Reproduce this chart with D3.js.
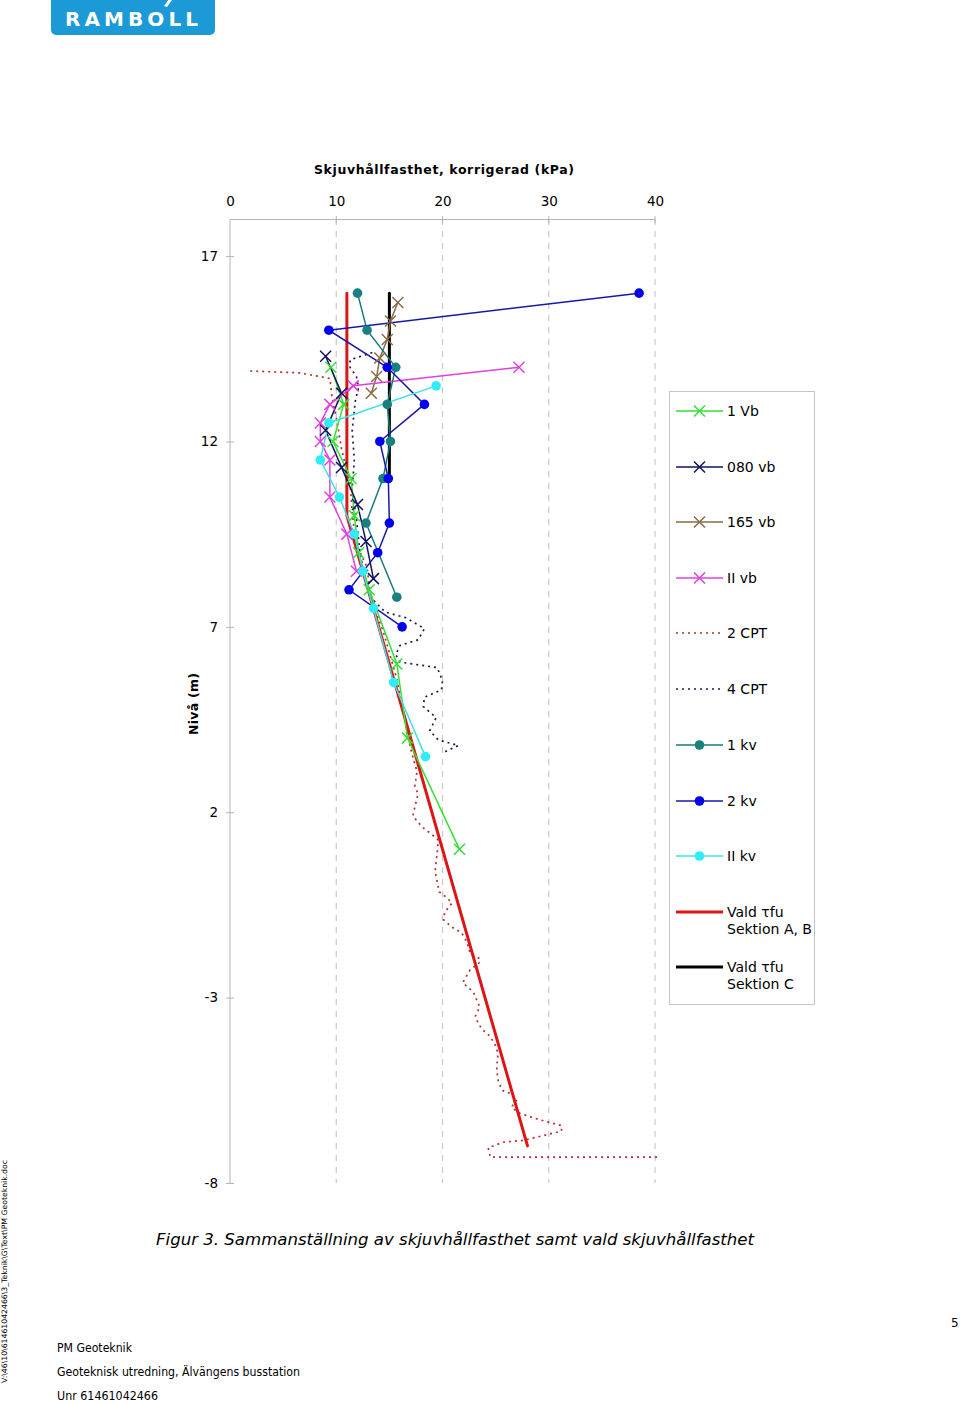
<!DOCTYPE html>
<html><head><meta charset="utf-8">
<script src="https://cdn.jsdelivr.net/npm/d3@7"></script>
<style>body{margin:0;background:#fff}svg{display:block}</style>
</head><body>
<svg id="c" width="960" height="1404"></svg>
<script>
// ---- data ----
const xTicks = [0, 10, 20, 30, 40];
const yTicks = [17, 12, 7, 2, -3, -8];
const legendLabels = ["1 Vb", "080 vb", "165 vb", "II vb", "2 CPT", "4 CPT", "1 kv", "2 kv", "II kv", "Vald τfu|Sektion A, B", "Vald τfu|Sektion C"];

const vb1 = [[9.5,14.0],[10.7,13.0],[9.7,12.0],[11.4,11.0],[11.7,10.0],[12.1,9.0],[13.1,8.0],[15.7,6.0],[16.7,4.0],[21.6,1.0]];
const vb080 = [[9.0,14.3],[10.5,13.3],[9.0,12.3],[10.5,11.3],[12.0,10.3],[12.8,9.3],[13.5,8.3]];
const vb165 = [[15.8,15.75],[15.1,15.25],[14.8,14.75],[14.1,14.25],[13.8,13.75],[13.3,13.3]];
const vbII = [[27.2,14.0],[11.6,13.5],[9.4,13.0],[8.5,12.5],[8.5,12.0],[9.4,11.5],[9.4,10.5],[11.0,9.5],[11.9,8.5]];
const cpt2 = [[1.9,13.9],[6.6,13.85],[9.4,13.7],[9.6,13.2],[10.1,12.5],[10.5,11.8],[11.0,11.2],[11.3,10.9],[11.5,10.1],[11.8,9.3],[12.9,8.6],[13.2,7.9],[13.6,7.5],[14.4,6.9],[15.7,5.6],[16.3,4.7],[17.1,3.6],[17.6,3.1],[17.4,2.7],[17.7,2.5],[17.2,1.9],[18.1,1.6],[19.0,1.4],[19.6,1.25],[19.5,0.9],[19.3,0.4],[19.7,-0.15],[20.4,-0.3],[20.9,-0.45],[20.2,-0.7],[20.1,-0.9],[20.9,-1.1],[21.8,-1.25],[22.3,-1.5],[22.6,-1.8],[23.5,-1.95],[23.5,-2.05],[22.6,-2.25],[21.9,-2.6],[22.9,-2.85],[23.5,-3.25],[23.1,-3.5],[23.3,-3.65],[23.7,-3.85],[24.5,-4.05],[25.1,-4.35],[25.2,-4.6],[25.1,-4.85],[25.2,-5.2],[25.6,-5.5],[26.5,-5.6],[27.0,-5.75],[26.5,-5.95],[27.1,-6.1],[29.2,-6.3],[31.2,-6.45],[31.2,-6.6],[29.8,-6.7],[27.6,-6.85],[25.7,-6.9],[24.3,-7.05],[24.5,-7.3],[40.2,-7.3]];
const cpt4 = [[13.4,14.4],[11.3,14.2],[11.3,14.0],[11.9,13.75],[12.1,13.45],[11.8,13.1],[11.5,12.3],[11.7,11.5],[11.5,10.7],[11.9,9.9],[12.2,9.1],[12.7,8.25],[13.4,7.75],[14.6,7.4],[16.5,7.25],[18.3,6.95],[17.7,6.65],[16.0,6.5],[15.6,6.25],[16.0,6.05],[19.5,5.9],[20.0,5.55],[19.9,5.3],[18.3,5.1],[18.2,4.85],[19.4,4.55],[18.8,4.2],[19.6,3.95],[21.5,3.8],[20.0,3.6]];
const kv1 = [[12.0,16.0],[12.9,15.0],[15.6,14.0],[14.8,13.0],[15.1,12.0],[14.4,11.0],[12.8,9.8],[15.7,7.8]];
const kv2 = [[38.5,16.0],[9.3,15.0],[14.8,14.0],[18.3,13.0],[14.1,12.0],[14.9,11.0],[15.0,9.8],[13.9,9.0],[11.2,8.0],[16.2,7.0]];
const kvII = [[19.4,13.5],[9.3,12.5],[8.5,11.5],[10.3,10.5],[11.7,9.5],[12.5,8.5],[13.5,7.5],[15.4,5.5],[18.4,3.5]];
const valdAB = [[11,16],[11,10],[28,-7]];
const valdC = [[15,16],[15,11]];

// ---- styles ----
const series = [
  {data: vb1,   color: "#33e033", mcolor: "#33e033", marker: "x", dash: null, w: 1.5},
  {data: vb080, color: "#12125e", mcolor: "#12125e", marker: "x", dash: null, w: 1.5},
  {data: vb165, color: "#8a6a48", mcolor: "#8a6a48", marker: "x", dash: null, w: 1.5},
  {data: vbII,  color: "#e040e0", mcolor: "#e040e0", marker: "x", dash: null, w: 1.5},
  {data: cpt2,  color: "#b2302e", mcolor: null, marker: null, dash: "2,4", w: 1.7},
  {data: cpt4,  color: "#1c1c4e", mcolor: null, marker: null, dash: "2,4", w: 1.7},
  {data: kv1,   color: "#1a7a7a", mcolor: "#1a7f7f", marker: "o", dash: null, w: 1.5},
  {data: kv2,   color: "#1818a8", mcolor: "#0000ee", marker: "o", dash: null, w: 1.5},
  {data: kvII,  color: "#40e0e8", mcolor: "#30ecf4", marker: "o", dash: null, w: 1.5},
  {data: valdAB, color: "#dd1515", mcolor: null, marker: null, dash: null, w: 3},
  {data: valdC,  color: "#000000", mcolor: null, marker: null, dash: null, w: 3}
];

const svg = d3.select("#c");
const FONT = "DejaVu Sans, Verdana, sans-serif";

// logo
const logo = svg.append("g");
logo.append("rect").attr("x", 51).attr("y", -6).attr("width", 164).attr("height", 41).attr("rx", 5).attr("fill", "#1b9ad7");
logo.append("text").attr("x", 65).attr("y", 26).attr("font-family", FONT).attr("font-weight", "bold")
  .attr("font-size", 20).attr("fill", "#fff").attr("textLength", 133).attr("lengthAdjust", "spacing").text("RAMBOLL");
logo.append("path").attr("d", "M164,6 L169,-1 L172,0 L167,7 Z").attr("fill", "#fff");

// scales
const x = d3.scaleLinear().domain([0, 40]).range([230, 655]);
const y = d3.scaleLinear().domain([18, -8]).range([219, 1183]);

// title
svg.append("text").attr("x", 314).attr("y", 174).attr("font-family", FONT).attr("font-weight", "bold")
  .attr("font-size", 12.5).attr("fill", "#000").attr("textLength", 260).attr("lengthAdjust", "spacing")
  .text("Skjuvhållfasthet, korrigerad (kPa)");

// grid
svg.append("g").selectAll("line").data(xTicks.filter(d => d > 0)).join("line")
  .attr("x1", d => x(d)).attr("x2", d => x(d)).attr("y1", y(18)).attr("y2", y(-8))
  .attr("stroke", "#c8c8c8").attr("stroke-width", 1.2).attr("stroke-dasharray", "6,6");

const fmt = d => String(d);
// top axis
const xAxis = d3.axisTop(x).tickValues(xTicks).tickSize(0).tickPadding(13).tickFormat(fmt);
const gx = svg.append("g").attr("transform", `translate(0,${y(18)})`).call(xAxis);
gx.select(".domain").attr("stroke", "#b4b4b4");
gx.selectAll("text").attr("font-family", FONT).attr("font-size", 13.5).attr("fill", "#000");
svg.append("g").selectAll("line").data(xTicks.filter(d => d > 0)).join("line")
  .attr("x1", d => x(d)).attr("x2", d => x(d)).attr("y1", y(18) - 3).attr("y2", y(18) + 4).attr("stroke", "#b4b4b4");

// left axis
const yAxis = d3.axisLeft(y).tickValues(yTicks).tickSize(4).tickPadding(6).tickFormat(fmt);
const gy = svg.append("g").attr("transform", `translate(${x(0)},0)`).call(yAxis);
gy.select(".domain").attr("stroke", "#b4b4b4").attr("d", `M0,${y(18)}V${y(-8)}`);
gy.selectAll(".tick line").attr("stroke", "#b4b4b4").attr("x1", 4);
gy.selectAll("text").attr("font-family", FONT).attr("font-size", 13.5).attr("fill", "#000").attr("dx", -2);

// y label
svg.append("text").attr("transform", "translate(198,735) rotate(-90)").attr("font-family", FONT)
  .attr("font-weight", "bold").attr("font-size", 12.5).attr("textLength", 62).attr("lengthAdjust", "spacing").text("Nivå (m)");

// lines
const line = d3.line().x(d => x(d[0])).y(d => y(d[1]));
const order = [4, 5, 9, 10, 0, 1, 2, 3, 6, 7, 8];
const plot = svg.append("g");
function drawX(g, cx, cy, col, s) {
  g.append("path").attr("d", `M${cx - s},${cy - s}L${cx + s},${cy + s}M${cx - s},${cy + s}L${cx + s},${cy - s}`)
    .attr("stroke", col).attr("stroke-width", 1.5).attr("fill", "none");
}
order.forEach(i => {
  const s = series[i];
  plot.append("path").datum(s.data).attr("d", line).attr("fill", "none").attr("stroke", s.color)
    .attr("stroke-width", s.w).attr("stroke-dasharray", s.dash).attr("stroke-linecap", s.dash ? "butt" : "round");
});
order.forEach(i => {
  const s = series[i];
  if (s.marker === "x") s.data.forEach(d => drawX(plot, x(d[0]), y(d[1]), s.mcolor, 5.5));
  if (s.marker === "o") plot.selectAll(null).data(s.data).join("circle").attr("cx", d => x(d[0])).attr("cy", d => y(d[1]))
    .attr("r", 4.8).attr("fill", s.mcolor);
});

// legend
const lg = svg.append("g");
lg.append("rect").attr("x", 669.5).attr("y", 391.5).attr("width", 145).attr("height", 613).attr("fill", "#fff").attr("stroke", "#c4c4c4");
const rowY = [411, 467, 522, 578, 633, 689, 745, 801, 856, 912, 967];
legendLabels.forEach((lab, i) => {
  const s = series[i], ry = rowY[i];
  lg.append("line").attr("x1", 676).attr("x2", 723).attr("y1", ry).attr("y2", ry).attr("stroke", s.color)
    .attr("stroke-width", s.w).attr("stroke-dasharray", s.dash);
  if (s.marker === "x") drawX(lg, 699.5, ry, s.mcolor, 5.5);
  if (s.marker === "o") lg.append("circle").attr("cx", 699.5).attr("cy", ry).attr("r", 4.8).attr("fill", s.mcolor);
  const parts = lab.split("|");
  parts.forEach((p, k) => lg.append("text").attr("x", 727).attr("y", ry + 5 + k * 16.5).attr("font-family", FONT)
    .attr("font-size", 14).attr("fill", "#000").text(p));
});

// caption
svg.append("text").attr("x", 156).attr("y", 1245).attr("font-family", FONT).attr("font-style", "italic")
  .attr("font-size", 16).attr("textLength", 598).attr("lengthAdjust", "spacingAndGlyphs")
  .text("Figur 3. Sammanställning av skjuvhållfasthet samt vald skjuvhållfasthet");

// footer
const foot = [["PM Geoteknik", 1352, 75], ["Geoteknisk utredning, Älvängens busstation", 1376, 243], ["Unr 61461042466", 1400, 101]];
foot.forEach(f => svg.append("text").attr("x", 57).attr("y", f[1]).attr("font-family", FONT).attr("font-size", 11.5)
  .attr("textLength", f[2]).attr("lengthAdjust", "spacingAndGlyphs").text(f[0]));
svg.append("text").attr("x", 951).attr("y", 1327).attr("font-family", FONT).attr("font-size", 12).text("5");
svg.append("text").attr("transform", "translate(7,1383) rotate(-90)").attr("font-family", FONT).attr("font-size", 7.5)
  .attr("textLength", 223).attr("lengthAdjust", "spacingAndGlyphs").text("V:\\46\\10\\61461042466\\3_Teknik\\G\\Text\\PM Geoteknik.doc");
</script>
</body></html>
